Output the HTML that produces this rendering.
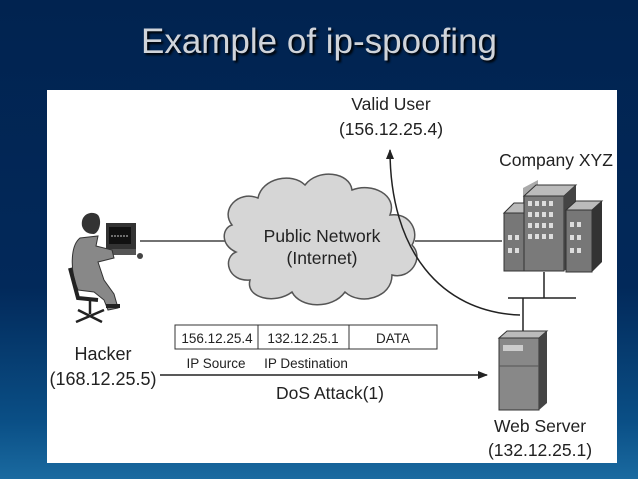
<!DOCTYPE html>
<html><head><style>
html,body{margin:0;padding:0;}
body{width:638px;height:479px;overflow:hidden;background:linear-gradient(180deg,#012350 0%,#02295a 60%,#0a4f86 88%,#1a6aa0 100%);font-family:"Liberation Sans",sans-serif;position:relative;}
.title{position:absolute;left:0;width:638px;top:22px;text-align:center;font-size:35px;color:#d0d4da;text-shadow:2px 2px 2px #000;}
.panel{position:absolute;left:47px;top:90px;width:570px;height:373px;background:#fff;}
</style></head><body>
<div class="title">Example of ip-spoofing</div>
<div class="panel"></div>
<svg width="638" height="479" style="position:absolute;left:0;top:0" font-family="Liberation Sans, sans-serif">
<defs><marker id="ah" markerWidth="10" markerHeight="8" refX="9" refY="4" orient="auto" markerUnits="userSpaceOnUse"><path d="M0,0 L10,4 L0,8 z" fill="#222"/></marker></defs>
<line x1="140" y1="241" x2="228" y2="241" stroke="#444" stroke-width="1.5"/>
<line x1="415" y1="241" x2="502" y2="241" stroke="#444" stroke-width="1.5"/>
<path d="M232,225 C220,210 238,190 258,198 C262,178 292,172 305,185 C318,168 350,172 352,190 C372,182 398,195 390,215 C410,212 420,232 412,245 C425,258 410,280 392,275 C392,298 360,306 345,292 C332,310 300,308 292,292 C275,305 245,298 250,280 C228,282 222,258 236,252 C220,245 222,228 232,225 z" fill="#d6d6d6" stroke="#555" stroke-width="1.5"/>
<text x="322" y="242" font-size="17.5" text-anchor="middle" fill="#222">Public Network</text>
<text x="322" y="264" font-size="17.5" text-anchor="middle" fill="#222">(Internet)</text>
<path d="M520,315 C440,312 390,250 390,150" fill="none" stroke="#222" stroke-width="1.5" marker-end="url(#ah)"/>
<text x="391" y="110" font-size="17.5" text-anchor="middle" fill="#222">Valid User</text>
<text x="391" y="135" font-size="17.5" text-anchor="middle" fill="#222">(156.12.25.4)</text>
<text x="556" y="166" font-size="17.5" text-anchor="middle" fill="#222">Company XYZ</text>
<polygon points="523,188 538,180 538,200 523,205" fill="#aaa"/>
<rect x="504" y="213" width="30" height="58" fill="#777" stroke="#333"/>
<polygon points="504,213 514,203 544,203 534,213" fill="#bbb" stroke="#333"/>
<rect x="524" y="196" width="40" height="75" fill="#7a7a7a" stroke="#333"/>
<polygon points="524,196 536,185 576,185 564,196" fill="#bbb" stroke="#333"/>
<polygon points="564,196 576,185 576,262 564,271" fill="#444"/>
<rect x="566" y="210" width="26" height="62" fill="#777" stroke="#333"/>
<polygon points="566,210 576,201 602,201 592,210" fill="#bbb" stroke="#333"/>
<polygon points="592,210 602,201 602,262 592,272" fill="#333"/>
<g fill="#ddd">
<rect x="528" y="201" width="4" height="5"/><rect x="535" y="201" width="4" height="5"/><rect x="542" y="201" width="4" height="5"/><rect x="549" y="201" width="4" height="5"/>
<rect x="528" y="212" width="4" height="5"/><rect x="535" y="212" width="4" height="5"/><rect x="542" y="212" width="4" height="5"/><rect x="549" y="212" width="4" height="5"/>
<rect x="528" y="223" width="4" height="5"/><rect x="535" y="223" width="4" height="5"/><rect x="542" y="223" width="4" height="5"/><rect x="549" y="223" width="4" height="5"/>
<rect x="528" y="234" width="4" height="5"/><rect x="535" y="234" width="4" height="5"/><rect x="542" y="234" width="4" height="5"/><rect x="549" y="234" width="4" height="5"/>
<rect x="508" y="235" width="4" height="5"/><rect x="515" y="235" width="4" height="5"/><rect x="508" y="248" width="4" height="5"/><rect x="515" y="248" width="4" height="5"/>
<rect x="570" y="222" width="4" height="5"/><rect x="577" y="222" width="4" height="5"/><rect x="570" y="235" width="4" height="5"/><rect x="577" y="235" width="4" height="5"/><rect x="570" y="248" width="4" height="5"/><rect x="577" y="248" width="4" height="5"/>
</g>
<line x1="544" y1="272" x2="544" y2="298" stroke="#222" stroke-width="1.5"/>
<line x1="508" y1="298" x2="576" y2="298" stroke="#222" stroke-width="1.5"/>
<line x1="523" y1="298" x2="523" y2="332" stroke="#222" stroke-width="1.5"/>
<rect x="499" y="338" width="40" height="72" fill="#888" stroke="#333"/>
<polygon points="499,338 507,331 547,331 539,338" fill="#bbb" stroke="#333"/>
<polygon points="539,338 547,331 547,403 539,410" fill="#444"/>
<rect x="503" y="345" width="20" height="6" fill="#ccc"/>
<line x1="499" y1="366" x2="539" y2="366" stroke="#555"/>
<text x="540" y="432" font-size="17.5" text-anchor="middle" fill="#222">Web Server</text>
<text x="540" y="456" font-size="17.5" text-anchor="middle" fill="#222">(132.12.25.1)</text>
<rect x="175" y="325" width="262" height="24" fill="#fff" stroke="#333" stroke-width="1"/>
<line x1="258" y1="325" x2="258" y2="349" stroke="#333"/>
<line x1="349" y1="325" x2="349" y2="349" stroke="#333"/>
<text x="217" y="343" font-size="13.5" text-anchor="middle" fill="#222">156.12.25.4</text>
<text x="303" y="343" font-size="13.5" text-anchor="middle" fill="#222">132.12.25.1</text>
<text x="393" y="343" font-size="13.5" text-anchor="middle" fill="#222">DATA</text>
<text x="216" y="368" font-size="13.5" text-anchor="middle" fill="#222">IP Source</text>
<text x="306" y="368" font-size="13.5" text-anchor="middle" fill="#222">IP Destination</text>
<line x1="160" y1="375" x2="487" y2="375" stroke="#222" stroke-width="1.5" marker-end="url(#ah)"/>
<text x="330" y="399" font-size="17.5" text-anchor="middle" fill="#222">DoS Attack(1)</text>
<text x="103" y="360" font-size="18" text-anchor="middle" fill="#222">Hacker</text>
<text x="103" y="385" font-size="18" text-anchor="middle" fill="#222">(168.12.25.5)</text>
<rect x="106" y="223" width="30" height="26" fill="#333"/>
<rect x="109" y="227" width="22" height="17" fill="#111"/>
<line x1="111" y1="236" x2="129" y2="236" stroke="#ccc" stroke-dasharray="2,1"/>
<rect x="106" y="249" width="30" height="6" fill="#555"/>
<circle cx="140" cy="256" r="3" fill="#444"/>
<path d="M82,226 C80,214 92,210 98,215 C102,220 100,232 94,234 C88,234 84,232 82,226 z" fill="#333"/>
<path d="M80,238 C70,246 70,272 78,290 L94,292 L104,300 L108,310 L118,308 L114,294 L104,280 L98,262 L114,258 L112,250 L96,246 L98,236 z" fill="#888" stroke="#333"/>
<path d="M70,268 L78,298 L98,300" fill="none" stroke="#222" stroke-width="4"/>
<path d="M90,300 L90,314 M76,322 L104,310 M78,310 L102,322" stroke="#222" stroke-width="2.5"/>
<path d="M106,306 L120,306" stroke="#222" stroke-width="4"/>
</svg>
</body></html>
